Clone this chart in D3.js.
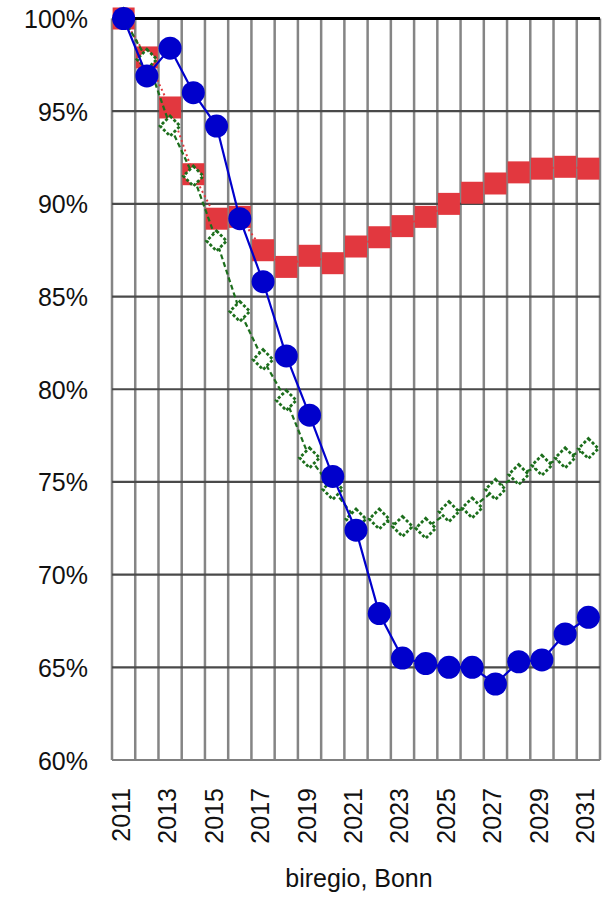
<!DOCTYPE html>
<html>
<head>
<meta charset="utf-8">
<script src="https://cdn.jsdelivr.net/npm/d3@7/dist/d3.min.js"></script>
<style>
  html, body { margin: 0; padding: 0; background: #fff; }
  svg { display: block; }
  text { font-family: "Liberation Sans", Arial, sans-serif; fill: #111; }
</style>
</head>
<body>
<svg id="chart" width="602" height="898"></svg>
<script>
// ---- data ----
const years = [2011,2012,2013,2014,2015,2016,2017,2018,2019,2020,2021,2022,2023,2024,2025,2026,2027,2028,2029,2030,2031];
const redValues   = [1.000,0.979,0.952,0.916,0.892,0.893,0.875,0.866,0.872,0.868,0.877,0.882,0.888,0.893,0.900,0.906,0.911,0.917,0.919,0.920,0.919];
const greenValues = [1.000,0.978,0.942,0.915,0.880,0.842,0.816,0.794,0.763,0.746,0.730,0.730,0.726,0.725,0.734,0.736,0.746,0.754,0.759,0.763,0.768];
const blueValues  = [1.000,0.969,0.984,0.960,0.942,0.892,0.858,0.818,0.786,0.753,0.724,0.679,0.655,0.652,0.650,0.650,0.641,0.653,0.654,0.668,0.677];
const yTicks = [0.60,0.65,0.70,0.75,0.80,0.85,0.90,0.95,1.00];
const xTickLabels = [2011,2013,2015,2017,2019,2021,2023,2025,2027,2029,2031];
const sourceLabel = "biregio, Bonn";

// ---- layout ----
const svg = d3.select("#chart");
const mLeft = 112, mRight = 600, mTop = 18.5, mBottom = 760;

const x = d3.scaleBand().domain(years).range([mLeft, mRight]).padding(0);
const y = d3.scaleLinear().domain([0.60, 1.00]).range([mBottom, mTop]);
const cx = d => x(d) + x.bandwidth() / 2;

// vertical grid lines (band boundaries)
const vLines = years.map(d => x(d)).concat([x.range()[1]]);
svg.append("g").selectAll("line").data(vLines).join("line")
  .attr("x1", d => d).attr("x2", d => d)
  .attr("y1", mTop).attr("y2", mBottom)
  .attr("stroke", "#858585").attr("stroke-width", 2.5);

// horizontal grid lines
svg.append("g").selectAll("line").data(yTicks).join("line")
  .attr("x1", mLeft).attr("x2", mRight)
  .attr("y1", d => y(d)).attr("y2", d => y(d))
  .attr("stroke", d => d === 1 ? "#000" : (d === 0.6 ? "#808080" : "#4a4a4a"))
  .attr("stroke-width", d => d === 1 ? 3 : 2.2);

// y axis labels
const yAxis = d3.axisLeft(y).tickValues(yTicks).tickFormat(d3.format(".0%")).tickSize(0).tickPadding(24);
const gy = svg.append("g").attr("transform", `translate(${mLeft},0)`).call(yAxis);
gy.select(".domain").remove();
gy.selectAll("text").style("font-size", "25px").attr("dy", "0.36em").style("fill", "#111");

// x axis labels
const xAxis = d3.axisBottom(x).tickValues(xTickLabels).tickSize(0).tickPadding(0);
const gx = svg.append("g").attr("transform", `translate(-3,${mBottom})`).call(xAxis);
gx.select(".domain").remove();
gx.selectAll("text")
  .style("font-size", "25px").style("fill", "#111")
  .attr("text-anchor", "end")
  .attr("transform", "rotate(-90)")
  .attr("x", -28).attr("y", 0).attr("dy", "0.36em");

// source label
svg.append("text").attr("x", 359).attr("y", 887).attr("text-anchor", "middle")
  .style("font-size", "25px").text(sourceLabel);

const line = d3.line().x((d, i) => cx(years[i])).y(d => y(d));

// red series
const red = "#e2383f";
svg.append("path").datum(redValues).attr("d", line)
  .attr("fill", "none").attr("stroke", red).attr("stroke-width", 2).attr("stroke-dasharray", "2,3");
svg.append("g").selectAll("rect").data(redValues).join("rect")
  .attr("x", (d, i) => cx(years[i]) - 11).attr("y", d => y(d) - 11)
  .attr("width", 22).attr("height", 22).attr("fill", red);

// green series
const green = "#1c6e1c";
svg.append("path").datum(greenValues).attr("d", line)
  .attr("fill", "none").attr("stroke", green).attr("stroke-width", 2.2).attr("stroke-dasharray", "5,3");
svg.append("g").selectAll("path").data(greenValues).join("path")
  .attr("transform", (d, i) => `translate(${cx(years[i])},${y(d)})`)
  .attr("d", "M0,-10L10,0L0,10L-10,0Z")
  .attr("fill", "#fff").attr("stroke", green).attr("stroke-width", 2.8).attr("stroke-dasharray", "3,2");

// blue series
const blue = "#0000cc";
svg.append("path").datum(blueValues).attr("d", line)
  .attr("fill", "none").attr("stroke", blue).attr("stroke-width", 2.2);
svg.append("g").selectAll("circle").data(blueValues).join("circle")
  .attr("cx", (d, i) => cx(years[i])).attr("cy", d => y(d)).attr("r", 11.5)
  .attr("fill", blue);
</script>
</body>
</html>
